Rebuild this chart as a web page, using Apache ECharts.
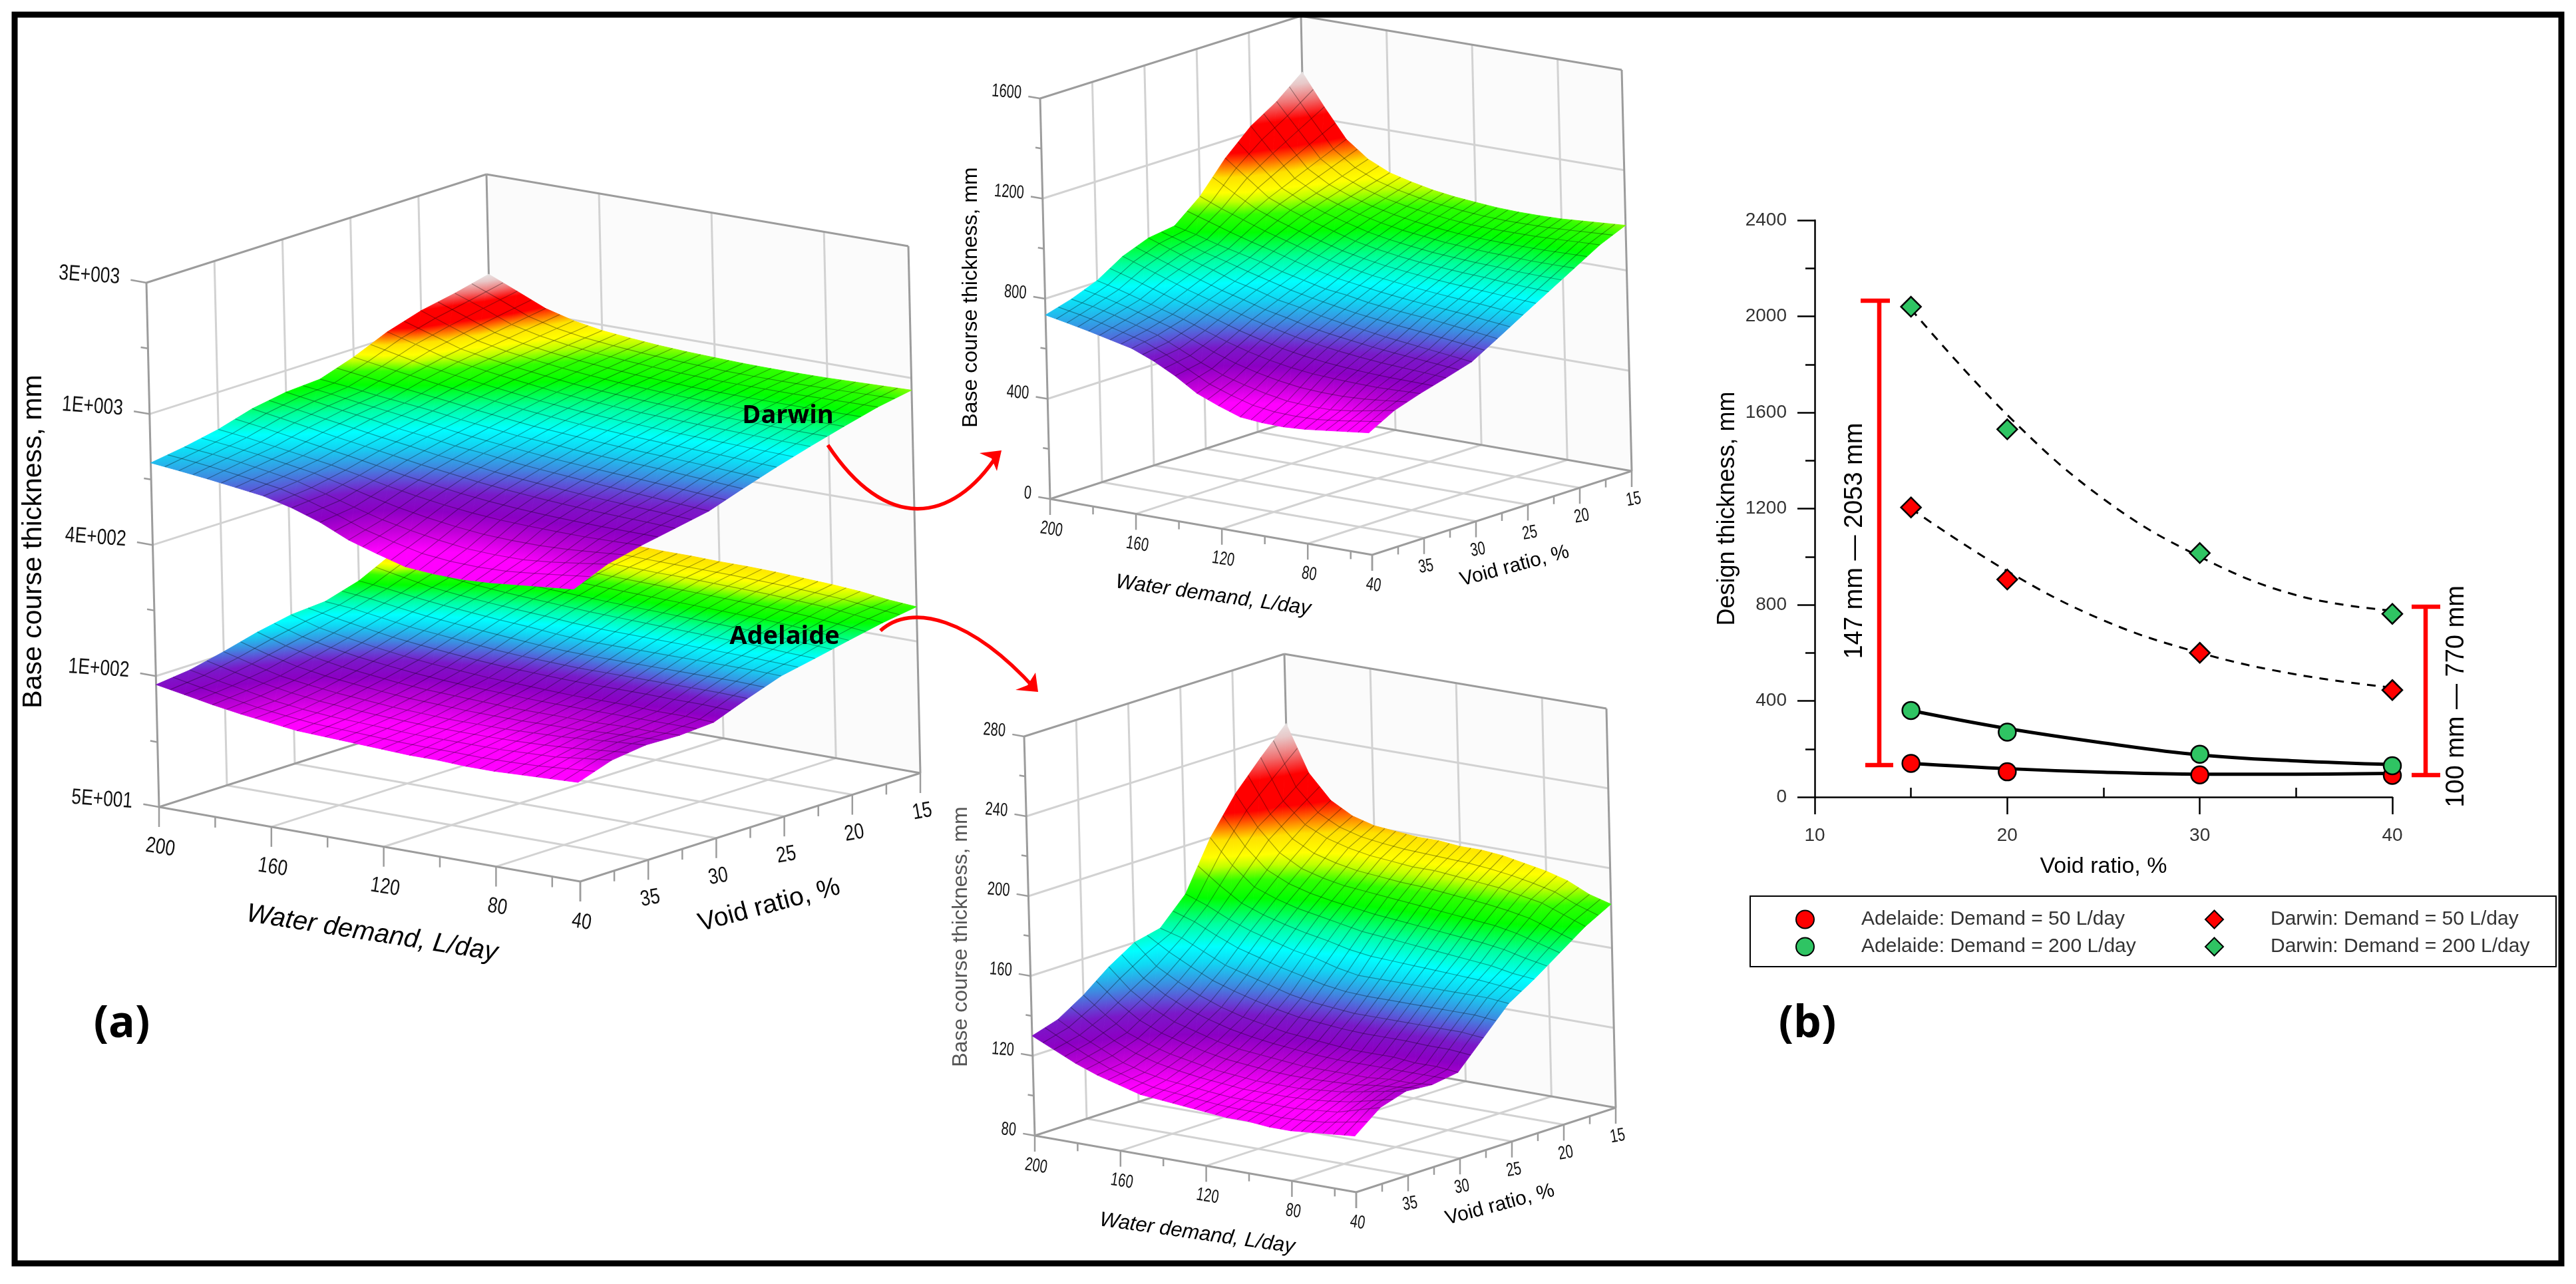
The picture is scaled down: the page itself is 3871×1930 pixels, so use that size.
<!DOCTYPE html>
<html>
<head>
<meta charset="utf-8">
<style>html,body{margin:0;padding:0;background:#fff}#c{width:3871px;height:1930px}</style>
<script src="https://cdn.jsdelivr.net/npm/echarts@6/dist/echarts.min.js"></script>
</head>
<body>
<div id="c"></div>
<script>
// ---------- surface data ----------
const DEMAND = [200,190,180,170,160,150,140,130,120,110,100,90,80,70,60,50];
const VOID_GRID = [15,17.5,20,22.5,25,27.5,30,32.5,35,37.5,40];
const DARWIN = [
[1375,1250,1135,1070,1030,1008,990,978,970,963,960,960,962,968,974,980],
[1290,1190,1090,1035,1000,975,958,945,935,928,925,925,925,928,932,935],
[1225,1130,1045,1000,970,945,925,910,900,890,885,880,878,875,875,875],
[1130,1065,1000,965,935,910,885,868,855,845,838,832,828,822,818,815],
[1010,975,945,915,890,865,842,825,810,800,790,782,775,770,762,755],
[925,905,880,860,840,815,795,775,765,750,740,732,725,715,705,694],
[910,880,850,825,795,775,750,735,715,700,688,675,665,655,645,635],
[870,840,810,780,755,730,705,685,665,650,638,628,620,615,610,604],
[806,785,760,735,710,680,650,625,605,590,580,575,572,570,572,575],
[765,750,730,705,680,640,600,565,540,520,505,500,500,510,525,541],
[735,718,700,680,660,625,580,525,490,460,452,450,455,465,475,485]];
const ADELAIDE = [
[245,222,210,204,201,200,199,199,198,198,197,195,193,190,185,182],
[232,212,202,197,194,192,191,190,190,189,188,187,185,183,179,175],
[218,203,192,186,183,181,180,179,178,177,176,175,174,172,169,166],
[200,188,179,175,172,170,168,166,165,164,163,162,161,160,158,157],
[176,172,167,163,160,157,155,152,150,150,150,150,150,150,150,149],
[163,160,155,150,147,144,141,139,138,137,137,137,137,137,137,136],
[160,150,144,139,135,132,130,128,127,126,125,125,125,124,124,123],
[152,142,135,130,127,124,122,121,120,119,119,119,119,120,120,121],
[142,134,127,123,120,118,116,115,114,114,114,115,116,118,120,122],
[134,128,123,118,115,113,112,111,110,110,110,110,111,112,115,118],
[130,125,120,116,113,110,109,108,107,106,106,105,105,106,107,108]];
const DARWIN_RANGE = [450,1375];
const ADELAIDE_RANGE = [105,245];

// ---------- 3D axis ticks ----------
const DEMAND_MAJOR = [200,160,120,80,50];
const DEMAND_LABELS = ['200','160','120','80','40'];
const DEMAND_MINOR = [180,140,100,60];
const VOID_MAJOR = [15,20,25,30,35,40];
const VOID_LABELS = ['15','20','25','30','35','40'];
const VOID_MINOR = [17.5,22.5,27.5,32.5,37.5];
const A_Z_MAJOR = [50,139,387,1076,3000];
const A_Z_LABELS = ['5E+001','1E+002','4E+002','1E+003','3E+003'];
const A_Z_MINOR = [83,232,645,1795];
const T_Z_MAJOR = [0,400,800,1200,1600];
const T_Z_LABELS = ['0','400','800','1200','1600'];
const T_Z_MINOR = [200,600,1000,1400];
const B_Z_MAJOR = [80,120,160,200,240,280];
const B_Z_LABELS = ['80','120','160','200','240','280'];
const B_Z_MINOR = [100,140,180,220,260];

// ---------- panel (b) data ----------
const VOID_B = [15,20,30,40];
const ADELAIDE_50 = [140,105,92,90];
const ADELAIDE_200 = [360,270,178,130];
const DARWIN_50 = [1205,905,600,445];
const DARWIN_200 = [2040,1530,1015,762];
const FIT_VOID = [15,20,25,30,35,40];
const FIT_ADELAIDE_50 = [140,118,103,95,95,98];
const FIT_ADELAIDE_200 = [360,285,225,175,150,135];
const FIT_DARWIN_50 = [1200,940,735,600,510,455];
const FIT_DARWIN_200 = [2030,1590,1240,1000,840,775];

// ---------- projection of the three boxes ----------
function makePanel(o){ o.TF=[o.TL[0]+o.TR[0]-o.TB[0],o.TL[1]+o.TR[1]-o.TB[1]]; return o; }
const PANEL_A = makePanel({
  FB:[749,1050],FR:[1383,1162],FL:[239,1213],FF:[872,1325],TB:[731,262],TR:[1365,370],TL:[220,425],
  w:z=>Math.log(z/50)/Math.log(60),
  zMajor:A_Z_MAJOR,zLabels:A_Z_LABELS,zMinor:A_Z_MINOR,
  fs:33,sx:.8,labY:61,tickMaj:30,tickMin:16,zTickMaj:24,zTickMin:11,zLabX:-40,
  titles:[
   {t:'Base course thickness, mm',x:51,y:814,r:90,fs:41,c:'#000'},
   {t:'Water demand, L/day',x:559,y:1403,r:-9,fs:40,c:'#000',it:true},
   {t:'Void ratio, %',x:1156,y:1361,r:15,fs:39,c:'#000'}]
});
const PANEL_T = makePanel({
  FB:[1968,624],FR:[2452,708],FL:[1578,750],FF:[2062,834],TB:[1955,24],TR:[2437,105],TL:[1563,148],
  w:z=>z/1600,
  zMajor:T_Z_MAJOR,zLabels:T_Z_LABELS,zMinor:T_Z_MINOR,
  fs:28,sx:.72,labY:46,tickMaj:24,tickMin:12,zTickMaj:18,zTickMin:9,zLabX:-28,
  titles:[
   {t:'Base course thickness, mm',x:1459,y:447,r:90,fs:32,c:'#000'},
   {t:'Water demand, L/day',x:1823,y:895,r:-8,fs:31,c:'#000',it:true},
   {t:'Void ratio, %',x:2276,y:851,r:15,fs:30,c:'#000'}]
});
const PANEL_B = makePanel({
  FB:[1945,1580],FR:[2428,1665],FL:[1555,1707],FF:[2038,1792],TB:[1930,983],TR:[2414,1065],TL:[1539,1107],
  w:z=>(z-80)/200,
  zMajor:B_Z_MAJOR,zLabels:B_Z_LABELS,zMinor:B_Z_MINOR,
  fs:28,sx:.72,labY:46,tickMaj:24,tickMin:12,zTickMaj:18,zTickMin:9,zLabX:-28,
  titles:[
   {t:'Base course thickness, mm',x:1444,y:1408,r:90,fs:32,c:'#555'},
   {t:'Water demand, L/day',x:1799,y:1854,r:-8,fs:31,c:'#000',it:true},
   {t:'Void ratio, %',x:2254,y:1811,r:15,fs:30,c:'#000'}]
});

function lerp(a,b,t){return [a[0]+(b[0]-a[0])*t,a[1]+(b[1]-a[1])*t];}
function proj(P,d,vr,z,wOverride){
  const u=(200-d)/150, v=(vr-15)/25, w=wOverride!==undefined?wOverride:P.w(z);
  const bot=lerp(lerp(P.FB,P.FR,u),lerp(P.FL,P.FF,u),v);
  const top=lerp(lerp(P.TB,P.TR,u),lerp(P.TL,P.TF,u),v);
  return lerp(bot,top,w);
}

// ---------- colour scale ----------
const CMAP = [[0,[255,0,255]],[.05,[255,0,255]],[.10,[192,0,216]],[.15,[140,0,196]],[.20,[122,24,200]],[.24,[90,88,216]],
 [.27,[63,136,224]],[.33,[16,216,244]],[.37,[0,255,255]],[.43,[0,255,160]],[.50,[0,255,0]],[.55,[48,255,0]],[.59,[192,255,0]],
 [.62,[255,255,0]],[.67,[255,224,0]],[.71,[255,112,0]],[.75,[255,0,0]],[.84,[255,0,0]],[.90,[240,112,112]],[.96,[232,200,200]],[1,[232,228,228]]];
function cm(f){
  f=Math.max(0,Math.min(1,f));
  for(let k=1;k<CMAP.length;k++){
    if(f<=CMAP[k][0]){
      const a=CMAP[k-1],b=CMAP[k],t=(f-a[0])/(b[0]-a[0]);
      const c=a[1].map((x,n)=>Math.round(x+(b[1][n]-x)*t));
      return 'rgb('+c.join(',')+')';
    }
  }
  return 'rgb(232,228,228)';
}
function triFill(P,F){
  const fmin=Math.min(...F),fmax=Math.max(...F);
  const [x0,y0]=P[0],[x1,y1]=P[1],[x2,y2]=P[2];
  const d=(x1-x0)*(y2-y0)-(x2-x0)*(y1-y0);
  if(Math.abs(d)<1e-6||fmax-fmin<1e-4) return cm((fmin+fmax)/2);
  const gx=((F[1]-F[0])*(y2-y0)-(F[2]-F[0])*(y1-y0))/d;
  const gy=((F[2]-F[0])*(x1-x0)-(F[1]-F[0])*(x2-x0))/d;
  const g2=gx*gx+gy*gy;
  if(g2<1e-14) return cm((fmin+fmax)/2);
  const s=P[F.indexOf(fmin)],k=(fmax-fmin)/g2;
  const stops=[{offset:0,color:cm(fmin)}];
  CMAP.forEach(c=>{ if(c[0]>fmin&&c[0]<fmax) stops.push({offset:(c[0]-fmin)/(fmax-fmin),color:cm(c[0])}); });
  stops.push({offset:1,color:cm(fmax)});
  return {type:'linear',global:true,x:s[0],y:s[1],x2:s[0]+gx*k,y2:s[1]+gy*k,colorStops:stops};
}

function surfaceSeries(P,table,range,z){
  const cells=[];
  for(let j=0;j<VOID_GRID.length-1;j++) for(let i=0;i<DEMAND.length-1;i++) cells.push([i,j]);
  return {type:'custom',coordinateSystem:'none',silent:true,animation:false,z:z,data:cells,
    renderItem:function(p,api){
      const i=api.value(0),j=api.value(1);
      const pt=(a,b)=>proj(P,DEMAND[a],VOID_GRID[b],table[b][a]);
      const fr=(a,b)=>(table[b][a]-range[0])/(range[1]-range[0]);
      const A=pt(i,j),B=pt(i+1,j),C=pt(i+1,j+1),D=pt(i,j+1);
      const fA=fr(i,j),fB=fr(i+1,j),fC=fr(i+1,j+1),fD=fr(i,j+1);
      const tri=(Q,F)=>{const g=triFill(Q,F);return {type:'polygon',shape:{points:Q},style:{fill:g,stroke:g,lineWidth:.9}};};
      const mesh=(a,b)=>({type:'line',shape:{x1:a[0],y1:a[1],x2:b[0],y2:b[1]},style:{stroke:'rgba(0,0,0,.34)',lineWidth:1.2,fill:null}});
      const ch=[tri([A,B,C],[fA,fB,fC]),tri([A,C,D],[fA,fC,fD])];
      ch.push(mesh(lerp(A,B,.5),lerp(D,C,.5)));
      ch.push(mesh(lerp(A,D,.5),lerp(B,C,.5)));
      if(j>0) ch.push(mesh(A,B));
      if(i>0) ch.push(mesh(A,D));
      return {type:'group',children:ch};
    }};
}

function frameSeries(P){
  return {type:'custom',coordinateSystem:'none',silent:true,animation:false,z:1,data:[[0]],
    renderItem:function(){
      const ch=[];
      const ln=(a,b,c,w)=>ch.push({type:'line',shape:{x1:a[0],y1:a[1],x2:b[0],y2:b[1]},style:{stroke:c,lineWidth:w,fill:null}});
      const txt=(t,x,y,o)=>ch.push({type:'text',x:x,y:y,rotation:(o.r||0)*Math.PI/180,scaleX:o.sx||1,
        style:{text:t,fill:o.c||'#111',font:(o.it?'italic ':'')+(o.fs)+'px "Liberation Sans",Arial,sans-serif',align:o.al||'center',verticalAlign:'middle'}});
      const GRID='#d2d2d2',EDGE='#9c9c9c';
      ch.push({type:'polygon',shape:{points:[P.FB,P.FR,P.TR,P.TB]},style:{fill:'#fbfbfb'}});
      // wall and floor grid
      P.zMajor.slice(1,-1).forEach(z=>{
        ln(proj(P,200,40,z),proj(P,200,15,z),GRID,3);
        ln(proj(P,200,15,z),proj(P,50,15,z),GRID,3);
      });
      VOID_MAJOR.slice(1,-1).forEach(vr=>{
        ln(proj(P,200,vr,0,0),proj(P,200,vr,0,1),GRID,3);
        ln(proj(P,200,vr,0,0),proj(P,50,vr,0,0),GRID,3);
      });
      DEMAND_MAJOR.slice(1,-1).forEach(d=>{
        ln(proj(P,d,15,0,0),proj(P,d,15,0,1),GRID,3);
        ln(proj(P,d,15,0,0),proj(P,d,40,0,0),GRID,3);
      });
      // outer edges
      [[P.TL,P.TB],[P.TB,P.TR],[P.TB,P.FB],[P.TL,P.FL],[P.TR,P.FR],[P.FL,P.FF],[P.FF,P.FR],[P.FL,P.FB],[P.FB,P.FR]]
        .forEach(e=>ln(e[0],e[1],EDGE,3));
      // floor ticks and labels
      DEMAND_MAJOR.forEach((d,n)=>{
        const a=proj(P,d,40,0,0);
        ln(a,[a[0],a[1]+P.tickMaj],EDGE,2.5);
        txt(DEMAND_LABELS[n],a[0]+2,a[1]+P.labY,{fs:P.fs,sx:P.sx,r:-9});
      });
      DEMAND_MINOR.forEach(d=>{const a=proj(P,d,40,0,0);ln(a,[a[0],a[1]+P.tickMin],EDGE,2.5);});
      VOID_MAJOR.forEach((vr,n)=>{
        const a=proj(P,50,vr,0,0);
        ln(a,[a[0],a[1]+P.tickMaj],EDGE,2.5);
        if(vr!==40) txt(VOID_LABELS[n],a[0]+3,a[1]+P.labY-3,{fs:P.fs,sx:P.sx,r:10});
      });
      VOID_MINOR.forEach(vr=>{const a=proj(P,50,vr,0,0);ln(a,[a[0],a[1]+P.tickMin],EDGE,2.5);});
      // z ticks and labels
      const dx=P.FF[0]-P.FL[0],dy=P.FF[1]-P.FL[1],dl=Math.hypot(dx,dy);
      P.zMajor.forEach((z,n)=>{
        const a=proj(P,200,40,z);
        ln(a,[a[0]-dx/dl*P.zTickMaj,a[1]-dy/dl*P.zTickMaj],EDGE,2.5);
        txt(P.zLabels[n],a[0]+P.zLabX,a[1]-8,{fs:P.fs,sx:P.sx,r:-4,al:'right'});
      });
      P.zMinor.forEach(z=>{
        const a=proj(P,200,40,z);
        ln(a,[a[0]-dx/dl*P.zTickMin,a[1]-dy/dl*P.zTickMin],EDGE,2.5);
      });
      P.titles.forEach(t=>txt(t.t,t.x,t.y,{fs:t.fs,r:t.r,c:t.c,it:t.it}));
      return {type:'group',children:ch};
    }};
}

// ---------- panel (b) series ----------
const pairs=(xs,ys)=>xs.map((x,i)=>[x,ys[i]]);
function fit(ys,dash){return {type:'line',data:pairs(FIT_VOID,ys),smooth:.4,showSymbol:false,silent:true,animation:false,z:3,
  lineStyle:dash?{color:'#000',width:3,type:[13,11]}:{color:'#000',width:5}};}
function pts(name,ys,sym,size,col){return {type:'scatter',name:name,data:pairs(VOID_B,ys),symbol:sym,symbolSize:size,silent:true,animation:false,z:4,
  itemStyle:{color:col,borderColor:'#000',borderWidth:2.5,opacity:1}};}
const RED='#ff0000',GREEN='#2fc463';
const N=['Adelaide: Demand = 50 L/day','Adelaide: Demand = 200 L/day','Darwin: Demand = 50 L/day','Darwin: Demand = 200 L/day'];

const redLine=(x1,y1,x2,y2)=>({type:'line',z:100,silent:true,shape:{x1,y1,x2,y2},style:{stroke:'#ff0000',lineWidth:6.5,fill:null}});
const noteTxt=(t,x,y,o)=>({type:'text',z:100,silent:true,x:x,y:y,rotation:(o.r||0)*Math.PI/180,
  style:{text:t,fill:'#000',font:(o.w||'normal')+' '+o.fs+'px '+(o.f||'"Liberation Sans"'),align:'center',verticalAlign:'middle'}});
const legendText={fontSize:30,color:'#333',fontFamily:'Liberation Sans',padding:[0,0,0,66]};

const option={
  backgroundColor:'#fff',animation:false,
  grid:{left:2727,top:331,width:868,height:867,containLabel:false},
  xAxis:[
   {type:'value',min:10,max:40,interval:10,position:'bottom',name:'Void ratio, %',nameLocation:'middle',nameGap:88,
    nameTextStyle:{fontSize:34,color:'#000',fontFamily:'Liberation Sans'},
    axisLine:{lineStyle:{color:'#000',width:2.5}},axisTick:{length:26,lineStyle:{color:'#000',width:2.5}},
    axisLabel:{margin:44,fontSize:28,color:'#333',fontFamily:'Liberation Sans',hideOverlap:false},splitLine:{show:false}},
   {type:'value',min:10,max:40,position:'bottom',axisLine:{show:false},
    axisTick:{inside:true,length:14,lineStyle:{color:'#000',width:2.5},customValues:[15,25,35]},
    axisLabel:{show:false},splitLine:{show:false}}],
  yAxis:{type:'value',min:0,max:2400,interval:400,name:'Design thickness, mm',nameLocation:'middle',nameGap:113,
    nameTextStyle:{fontSize:36,color:'#000',fontFamily:'Liberation Sans'},
    axisLine:{show:true,lineStyle:{color:'#000',width:2.5}},axisTick:{length:26,lineStyle:{color:'#000',width:2.5}},
    minorTick:{show:true,splitNumber:2,length:14,lineStyle:{color:'#000',width:2.5}},minorSplitLine:{show:false},
    axisLabel:{margin:42,fontSize:28,color:'#333',fontFamily:'Liberation Sans',formatter:v=>String(v)},splitLine:{show:false}},
  legend:[
   {data:[N[0],N[1]],left:2698,top:1367,orient:'vertical',padding:0,itemWidth:27,itemHeight:27,itemGap:11,selectedMode:false,textStyle:legendText},
   {data:[N[2],N[3]],left:3313,top:1367,orient:'vertical',padding:0,itemWidth:27,itemHeight:27,itemGap:11,selectedMode:false,textStyle:legendText}],
  graphic:[
   {type:'rect',z:100,silent:true,shape:{x:22,y:22,width:3827,height:1877},style:{fill:null,stroke:'#000',lineWidth:9}},
   {type:'rect',z:90,silent:true,shape:{x:2630,y:1347,width:1211,height:106},style:{fill:null,stroke:'#000',lineWidth:2}},
   redLine(2824,452,2824,1150),redLine(2796,452,2840,452),redLine(2803,1150,2845,1150),
   redLine(3645,912,3645,1165),redLine(3624,912,3667,912),redLine(3624,1165,3667,1165),
   noteTxt('147 mm — 2053 mm',2788,813,{fs:38,r:90}),
   noteTxt('100 mm — 770 mm',3692,1047,{fs:38,r:90}),
   noteTxt('Darwin',1184,625,{fs:38,w:'bold',f:'"Open Sans"'}),
   noteTxt('Adelaide',1179,957,{fs:38,w:'bold',f:'"Open Sans"'}),
   noteTxt('(a)',183,1540,{fs:66,w:'bold',f:'"Open Sans"'}),
   noteTxt('(b)',2716,1540,{fs:66,w:'bold',f:'"Open Sans"'}),
   {type:'bezierCurve',z:100,silent:true,shape:{x1:1244,y1:669,cpx1:1330,cpy1:799,cpx2:1430,cpy2:790,x2:1500,y2:682},style:{stroke:'#ff0000',lineWidth:5.5,fill:null}},
   {type:'polygon',z:100,silent:true,shape:{points:[[1505,677],[1472,681],[1490,689],[1498,708]]},style:{fill:'#ff0000'}},
   {type:'bezierCurve',z:100,silent:true,shape:{x1:1323,y1:948,cpx1:1370,cpy1:905,cpx2:1460,cpy2:930,x2:1555,y2:1035},style:{stroke:'#ff0000',lineWidth:5.5,fill:null}},
   {type:'polygon',z:100,silent:true,shape:{points:[[1560,1040],[1526,1037],[1544,1030],[1556,1011]]},style:{fill:'#ff0000'}}
  ],
  series:[
   frameSeries(PANEL_A),surfaceSeries(PANEL_A,ADELAIDE,ADELAIDE_RANGE,2),surfaceSeries(PANEL_A,DARWIN,DARWIN_RANGE,3),
   frameSeries(PANEL_T),surfaceSeries(PANEL_T,DARWIN,DARWIN_RANGE,2),
   frameSeries(PANEL_B),surfaceSeries(PANEL_B,ADELAIDE,ADELAIDE_RANGE,2),
   fit(FIT_DARWIN_200,true),fit(FIT_DARWIN_50,true),fit(FIT_ADELAIDE_200,false),fit(FIT_ADELAIDE_50,false),
   pts(N[0],ADELAIDE_50,'circle',26,RED),pts(N[1],ADELAIDE_200,'circle',26,GREEN),
   pts(N[2],DARWIN_50,'diamond',30,RED),pts(N[3],DARWIN_200,'diamond',30,GREEN)
  ]
};
echarts.init(document.getElementById('c'),null,{renderer:'canvas'}).setOption(option);
</script>
</body>
</html>
